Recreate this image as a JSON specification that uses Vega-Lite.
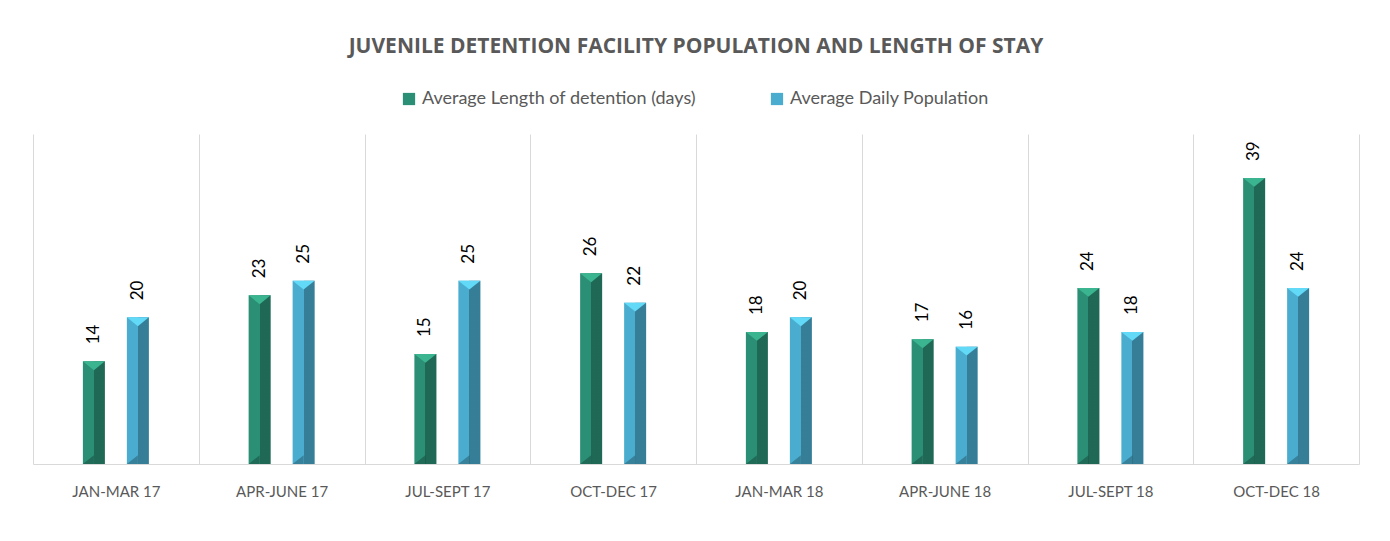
{
  "$schema": "https://vega.github.io/schema/vega-lite/v6.json",
  "width": 1326,
  "height": 330,
  "autosize": {"type": "none"},
  "padding": {"left": 33, "top": 134, "right": 31, "bottom": 77},
  "background": "white",
  "title": {
    "text": "JUVENILE DETENTION FACILITY POPULATION AND LENGTH OF STAY",
    "font": "Open Sans",
    "fontSize": 21,
    "fontWeight": "bold",
    "color": "#595959",
    "anchor": "middle",
    "offset": 33
  },
  "data": {
    "values": [
      {"period": "JAN-MAR 17", "series": "Average Length of detention (days)", "value": 14},
      {"period": "JAN-MAR 17", "series": "Average Daily Population", "value": 20},
      {"period": "APR-JUNE 17", "series": "Average Length of detention (days)", "value": 23},
      {"period": "APR-JUNE 17", "series": "Average Daily Population", "value": 25},
      {"period": "JUL-SEPT 17", "series": "Average Length of detention (days)", "value": 15},
      {"period": "JUL-SEPT 17", "series": "Average Daily Population", "value": 25},
      {"period": "OCT-DEC 17", "series": "Average Length of detention (days)", "value": 26},
      {"period": "OCT-DEC 17", "series": "Average Daily Population", "value": 22},
      {"period": "JAN-MAR 18", "series": "Average Length of detention (days)", "value": 18},
      {"period": "JAN-MAR 18", "series": "Average Daily Population", "value": 20},
      {"period": "APR-JUNE 18", "series": "Average Length of detention (days)", "value": 17},
      {"period": "APR-JUNE 18", "series": "Average Daily Population", "value": 16},
      {"period": "JUL-SEPT 18", "series": "Average Length of detention (days)", "value": 24},
      {"period": "JUL-SEPT 18", "series": "Average Daily Population", "value": 18},
      {"period": "OCT-DEC 18", "series": "Average Length of detention (days)", "value": 39},
      {"period": "OCT-DEC 18", "series": "Average Daily Population", "value": 24}
    ]
  },
  "encoding": {
    "x": {
      "field": "period",
      "type": "nominal",
      "sort": null,
      "scale": {"paddingInner": 0, "paddingOuter": 0},
      "axis": {
        "title": null,
        "grid": true,
        "gridColor": "#d9d9d9",
        "gridWidth": 1,
        "tickBand": "extent",
        "ticks": false,
        "domainColor": "#d9d9d9",
        "domainWidth": 1,
        "labelAngle": 0,
        "labelFont": "Lato",
        "labelFontSize": 15,
        "labelColor": "#595959",
        "labelPadding": 20
      }
    },
    "xOffset": {
      "field": "series",
      "type": "nominal",
      "scale": {
        "domain": ["_left", "Average Length of detention (days)", "Average Daily Population", "_right"],
        "paddingInner": 0.5,
        "paddingOuter": 0.134
      }
    },
    "y": {
      "field": "value",
      "type": "quantitative",
      "scale": {"domain": [0, 45], "nice": false},
      "axis": null
    }
  },
  "layer": [
    {
      "mark": {"type": "bar"},
      "encoding": {
        "color": {
          "field": "series",
          "type": "nominal",
          "scale": {
            "domain": ["Average Length of detention (days)", "Average Daily Population"],
            "range": ["#2b8f76", "#4aadcf"]
          },
          "legend": {
            "title": null,
            "orient": "none",
            "legendX": 367,
            "legendY": -44,
            "direction": "horizontal",
            "symbolType": "square",
            "symbolSize": 150,
            "labelFont": "Lato",
            "labelFontSize": 18,
            "labelColor": "#595959",
            "columnPadding": 72,
            "labelLimit": 400
          }
        }
      }
    },
    {
      "mark": {
        "type": "bar",
        "fill": {
          "gradient": "linear",
          "x1": 0, "y1": 0, "x2": 1, "y2": 0,
          "stops": [
            {"offset": 0, "color": "rgba(0,0,0,0)"},
            {"offset": 0.5, "color": "rgba(0,0,0,0)"},
            {"offset": 0.5, "color": "rgba(0,0,0,0.27)"},
            {"offset": 1, "color": "rgba(0,0,0,0.27)"}
          ]
        }
      }
    },
    {
      "mark": {
        "type": "point",
        "shape": "M-1,0L1,0L0,0.8Z",
        "size": 484,
        "filled": true,
        "opacity": 1,
        "strokeWidth": 0
      },
      "encoding": {
        "fill": {
          "field": "series",
          "type": "nominal",
          "scale": {
            "domain": ["Average Length of detention (days)", "Average Daily Population"],
            "range": ["#3bb58f", "#62d9f7"]
          },
          "legend": null
        }
      }
    },
    {
      "mark": {
        "type": "point",
        "shape": "M-1,0L0,-0.8L0,0Z",
        "size": 484,
        "filled": true,
        "color": "black",
        "opacity": 0.25,
        "strokeWidth": 0
      },
      "encoding": {
        "y": {"datum": 0, "type": "quantitative"}
      }
    },
    {
      "mark": {
        "type": "text",
        "angle": 270,
        "align": "left",
        "baseline": "middle",
        "dx": 17,
        "font": "Lato",
        "fontSize": 17,
        "color": "#000000"
      },
      "encoding": {
        "text": {"field": "value", "type": "quantitative"}
      }
    }
  ],
  "config": {
    "view": {"stroke": null},
    "font": "Lato"
  }
}
